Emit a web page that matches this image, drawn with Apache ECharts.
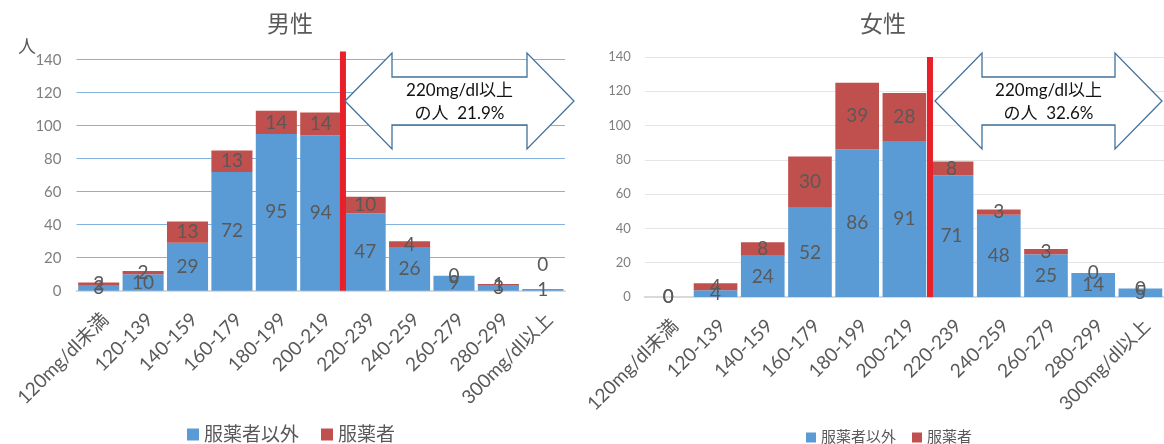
<!DOCTYPE html>
<html>
<head>
<meta charset="utf-8">
<script src="https://cdn.jsdelivr.net/npm/echarts@6/dist/echarts.min.js"></script>
<style>
  html, body { margin: 0; padding: 0; background: #fff; }
  #chart { width: 1164px; height: 444px; }
</style>
</head>
<body>
<div id="chart"></div>
<script>
// Cholesterol bands (mg/dl)
const categories = ['120mg/dl未満', '120-139', '140-159', '160-179', '180-199', '200-219',
  '220-239', '240-259', '260-279', '280-299', '300mg/dl以上'];

// 男性: not on medication / on medication
const maleNoMed = [3, 10, 29, 72, 95, 94, 47, 26, 9, 3, 1];
const maleMed = [2, 2, 13, 13, 14, 14, 10, 4, 0, 1, 0];

// 女性: not on medication / on medication
const femaleNoMed = [0, 4, 24, 52, 86, 91, 71, 48, 25, 14, 5];
const femaleMed = [0, 4, 8, 30, 39, 28, 8, 3, 3, 0, 0];

// y axis ticks
const yMin = 0, yMax = 140, yStep = 20;

// share of people at 220 mg/dl or above
const maleShare = '21.9%';
const femaleShare = '32.6%';

const seriesNames = ['服薬者以外', '服薬者'];
const BLUE = '#5B9BD5', RED = '#C0504D';
const FONT = 'Lato, "Noto Sans CJK JP", sans-serif';
const GRAY = '#595959';

const chart = echarts.init(document.getElementById('chart'));

function xAxisFor(gridIndex) {
  return {
    type: 'category', gridIndex, data: categories,
    axisLine: { lineStyle: { color: '#D9D9D9', width: 2 } },
    axisTick: { show: false },
    axisLabel: { rotate: 45, color: GRAY, fontSize: 19, fontFamily: FONT, margin: 19,
      interval: 0, verticalAlign: 'top' }
  };
}
function yAxisFor(gridIndex, fontSize, gridColor, margin) {
  return {
    type: 'value', gridIndex, min: yMin, max: yMax, interval: yStep,
    axisLine: { show: false }, axisTick: { show: false },
    axisLabel: { color: '#7F7F7F', fontSize, fontFamily: FONT, margin },
    splitLine: { lineStyle: { color: gridColor, width: 1.2 } }
  };
}
function labelCfg() {
  return { show: true, position: 'inside', color: GRAY, fontSize: 19, fontFamily: FONT };
}

// the zero label of the last male band sits above the bar
const maleMedData = maleMed.map((v, i) => i === maleMed.length - 1
  ? { value: v, label: { offset: [0, -24] } } : v);

function barSeries(name, stack, axisIdx, data, color) {
  return { name, type: 'bar', stack, xAxisIndex: axisIdx, yAxisIndex: axisIdx,
    data, barCategoryGap: '7.5%', itemStyle: { color, borderWidth: 0 }, label: labelCfg() };
}

const option = {
  animation: false,
  textStyle: { fontFamily: FONT },
  title: [
    { text: '男性', left: 285, top: 8, textAlign: 'center',
      textStyle: { color: GRAY, fontSize: 23, fontWeight: 'normal', fontFamily: FONT } },
    { text: '女性', left: 878, top: 8, textAlign: 'center',
      textStyle: { color: GRAY, fontSize: 23, fontWeight: 'normal', fontFamily: FONT } },
    { text: '人', left: 13, top: 33,
      textStyle: { color: GRAY, fontSize: 18, fontWeight: 'normal', fontFamily: FONT } }
  ],
  legend: [
    { data: seriesNames, left: 182, top: 420,
      icon: 'rect', itemWidth: 12, itemHeight: 12, itemGap: 22,
      itemStyle: { borderWidth: 0 },
      textStyle: { color: GRAY, fontSize: 19, fontFamily: FONT }, selectedMode: false },
    { data: seriesNames, left: 801, top: 425,
      icon: 'rect', itemWidth: 10, itemHeight: 10, itemGap: 16,
      itemStyle: { borderWidth: 0 },
      textStyle: { color: GRAY, fontSize: 15, fontFamily: FONT }, selectedMode: false }
  ],
  grid: [
    { left: 76.5, top: 59.7, width: 488.5, height: 231 },
    { left: 644.75, top: 57, width: 522.5, height: 240 }
  ],
  xAxis: [xAxisFor(0), xAxisFor(1)],
  yAxis: [yAxisFor(0, 15, '#86B2DE', 15), yAxisFor(1, 13, '#E5E5E5', 14)],
  series: [
    barSeries(seriesNames[0], 'm', 0, maleNoMed, BLUE),
    barSeries(seriesNames[1], 'm', 0, maleMedData, RED),
    barSeries(seriesNames[0], 'f', 1, femaleNoMed, BLUE),
    barSeries(seriesNames[1], 'f', 1, femaleMed, RED)
  ]
};
chart.setOption(option);

// Red divider at the 220 mg/dl boundary, between bands 200-219 and 220-239
function divider(axisIdx, topValue, nudge) {
  const a = chart.convertToPixel({ xAxisIndex: axisIdx }, 5);
  const b = chart.convertToPixel({ xAxisIndex: axisIdx }, 6);
  const x = (a + b) / 2 + nudge;
  const y0 = chart.convertToPixel({ yAxisIndex: axisIdx }, 0);
  const y1 = chart.convertToPixel({ yAxisIndex: axisIdx }, topValue);
  return { type: 'line', z: 100, shape: { x1: x, y1: y1, x2: x, y2: y0 },
    style: { stroke: '#E8202A', lineWidth: 6 } };
}

// Left-right arrow callout with the share text
function callout(x0, x1, share) {
  const yt = 53, yb = 149, st = 77, sb = 125, ym = 101, head = 47;
  const pts = [[x0, ym], [x0 + head, yt], [x0 + head, st], [x1 - head, st], [x1 - head, yt],
    [x1, ym], [x1 - head, yb], [x1 - head, sb], [x0 + head, sb], [x0 + head, yb]];
  const cx = (x0 + x1) / 2;
  return [
    { type: 'polygon', z: 110, shape: { points: pts },
      style: { fill: '#fff', stroke: '#41719C', lineWidth: 1.3 } },
    { type: 'text', z: 111, x: cx, y: 91,
      style: { text: '220mg/dl以上', fill: '#111', fontSize: 17, fontFamily: FONT,
        align: 'center', verticalAlign: 'middle' } },
    { type: 'text', z: 111, x: cx, y: 114,
      style: { text: 'の人  ' + share, fill: '#111', fontSize: 17, fontFamily: FONT,
        align: 'center', verticalAlign: 'middle' } }
  ];
}

chart.setOption({
  graphic: [
    divider(0, 145, 0),
    divider(1, 140, 2),
    ...callout(345, 574, maleShare),
    ...callout(935, 1162, femaleShare)
  ]
});
</script>
</body>
</html>
